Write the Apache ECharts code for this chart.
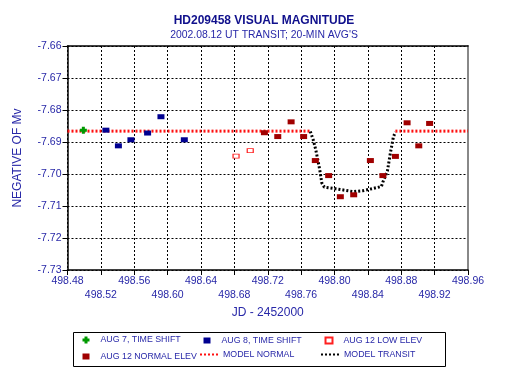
<!DOCTYPE html>
<html><head><meta charset="utf-8">
<script src="https://cdn.jsdelivr.net/npm/echarts@6/dist/echarts.min.js"></script>
<style>html,body{margin:0;padding:0;background:#fff}#c{width:512px;height:384px}</style>
</head><body><div id="c"></div>
<script>
// Data
const xTicks = [498.48,498.52,498.56,498.60,498.64,498.68,498.72,498.76,498.80,498.84,498.88,498.92,498.96];
const yTicks = [-7.66,-7.67,-7.68,-7.69,-7.70,-7.71,-7.72,-7.73];
const aug7 = [[498.499,-7.6863]];
const aug8 = [[498.526,-7.6863],[498.541,-7.6912],[498.556,-7.6893],[498.576,-7.6872],[498.592,-7.6821],[498.620,-7.6893]];
const aug12Low = [[498.682,-7.6944],[498.699,-7.6927]];
const aug12Normal = [[498.716,-7.6871],[498.732,-7.6883],[498.748,-7.6837],[498.763,-7.6883],[498.777,-7.6958],[498.793,-7.7005],[498.807,-7.7071],[498.823,-7.7065],[498.843,-7.6958],[498.858,-7.7005],[498.873,-7.6945],[498.887,-7.6840],[498.901,-7.6912],[498.914,-7.6842]];
const modelNormalA = [[498.48,-7.6866],[498.771,-7.6866]];
const modelNormalB = [[498.873,-7.6866],[498.96,-7.6866]];
const modelTransit = [[498.771,-7.6867],[498.7746,-7.6894],[498.7776,-7.6925],[498.780,-7.6956],[498.7824,-7.6988],[498.7848,-7.7028],[498.7878,-7.7041],[498.7986,-7.7045],[498.8106,-7.7050],[498.8226,-7.7055],[498.8346,-7.7052],[498.8466,-7.7045],[498.8562,-7.7039],[498.858,-7.7025],[498.8634,-7.6991],[498.867,-7.6934],[498.8706,-7.6884],[498.873,-7.6869]];

const FONT = '"Liberation Sans", Arial, sans-serif';
const TXT = '#2828a8';
const plus = 'path://M2,0H5V2H7V5H5V7H2V5H0V2H2Z';
const X0 = xTicks[0], X1 = xTicks[xTicks.length-1];
const Y0 = yTicks[yTicks.length-1], Y1 = yTicks[0];
const idx = v => Math.round((v - X0) / 0.04);
const chart = echarts.init(document.getElementById('c'), null, {renderer:'canvas'});
const lg = (name, left, top, w, h, pad, hideSym) => {
  const o = {
    data:[name], left:left, top:top, itemWidth:w, itemHeight:h, padding:0,
    textStyle:{color:TXT, fontSize:8.8, fontFamily:FONT, padding:[0,0,0,pad]}, selectedMode:false
  };
  if (hideSym) o.itemStyle = {opacity:0};
  return o;
};
chart.setOption({
  animation:false,
  title:{text:'HD209458 VISUAL MAGNITUDE', subtext:"2002.08.12 UT TRANSIT; 20-MIN AVG'S",
    left:259, textAlign:'center', top:10, itemGap:3,
    textStyle:{color:'#10108c', fontSize:12, fontWeight:'bold', fontFamily:FONT},
    subtextStyle:{color:TXT, fontSize:10.4, fontFamily:FONT}},
  grid:{left:67.5, right:44, top:46, bottom:114},
  legend:[
    lg('AUG 7, TIME SHIFT', 82.5, 335.5, 7, 7, 6),
    lg('AUG 8, TIME SHIFT', 203.5, 336, 7, 6, 6),
    lg('AUG 12 LOW ELEV', 324.5, 336, 7, 6, 6),
    lg('AUG 12 NORMAL ELEV', 82.5, 352, 7, 6, 6),
    lg('MODEL NORMAL', 199, 350, 18, 10, 0, true),
    lg('MODEL TRANSIT', 320, 350, 18, 10, 0, true)
  ],
  graphic:[{type:'rect', shape:{x:73.5,y:332.5,width:372,height:34}, style:{fill:'none', stroke:'#000', lineWidth:1}}],
  xAxis:[{type:'value', min:X0, max:X1, interval:0.04,
    name:'JD - 2452000', nameLocation:'middle', nameGap:37,
    nameTextStyle:{color:TXT, fontSize:12, fontFamily:FONT},
    axisLine:{lineStyle:{color:'#000', width:1.5}},
    axisTick:{show:true, length:5, lineStyle:{color:'#000'}},
    axisLabel:{color:TXT, fontSize:10.5, fontFamily:FONT, margin:6, showMinLabel:true, showMaxLabel:true, hideOverlap:false,
      formatter:v=> idx(v)%2 ? '' : v.toFixed(2)},
    splitLine:{show:true, lineStyle:{color:'#000', type:[2,2], width:1}}},
   {type:'value', position:'top', min:X0, max:X1, interval:0.04,
    axisLine:{show:true, lineStyle:{color:'#000', width:1.5}}, axisTick:{show:false}, axisLabel:{show:false}, splitLine:{show:false}},
   {type:'value', position:'bottom', offset:0, min:X0, max:X1, interval:0.04,
    axisLine:{show:false}, axisTick:{show:false}, splitLine:{show:false},
    axisLabel:{color:TXT, fontSize:10.5, fontFamily:FONT, margin:20, showMinLabel:true, showMaxLabel:true, hideOverlap:false,
      formatter:v=> idx(v)%2 ? v.toFixed(2) : ''}}],
  yAxis:[{type:'value', min:Y0, max:Y1, interval:0.01,
    name:'NEGATIVE OF Mv', nameLocation:'middle', nameGap:44,
    nameTextStyle:{color:TXT, fontSize:12, fontFamily:FONT},
    axisLine:{show:true, lineStyle:{color:'#000', width:1.5}},
    axisTick:{show:true, length:5, lineStyle:{color:'#000'}},
    axisLabel:{color:TXT, fontSize:10.5, fontFamily:FONT, margin:6, formatter:v=>v.toFixed(2)},
    splitLine:{show:true, lineStyle:{color:'#000', type:[2,2], width:1}}},
   {type:'value', position:'right', min:Y0, max:Y1, interval:0.01,
    axisLine:{show:true, lineStyle:{color:'#888', width:2}}, axisTick:{show:false}, axisLabel:{show:false}, splitLine:{show:false}}],
  series:[
    {name:'AUG 7, TIME SHIFT', type:'scatter', data:aug7, symbol:plus, symbolSize:7, itemStyle:{color:'#009900', opacity:1}, z:5},
    {name:'AUG 8, TIME SHIFT', type:'scatter', data:aug8, symbol:'rect', symbolSize:[7,5], itemStyle:{color:'#000090', opacity:1}, z:5},
    {name:'AUG 12 LOW ELEV', type:'scatter', data:aug12Low, symbol:'rect', symbolSize:[6,4], itemStyle:{color:'#fff', borderColor:'#ff2020', borderWidth:1, opacity:1}, z:5},
    {name:'AUG 12 NORMAL ELEV', type:'scatter', data:aug12Normal, symbol:'rect', symbolSize:[7,5], itemStyle:{color:'#a00000', opacity:1}, z:5},
    {name:'MODEL NORMAL', type:'line', data:modelNormalA, symbol:'none', itemStyle:{color:'#ff1010'}, lineStyle:{color:'#ff1010', width:3, type:[2,2]}, z:3},
    {name:'MODEL NORMAL', type:'line', data:modelNormalB, symbol:'none', itemStyle:{color:'#ff1010'}, lineStyle:{color:'#ff1010', width:3, type:[2,2]}, z:3},
    {name:'MODEL TRANSIT', type:'line', data:modelTransit, symbol:'none', itemStyle:{color:'#000'}, lineStyle:{color:'#000', width:3, type:[2,2]}, z:3}
  ]
});
</script></body></html>
